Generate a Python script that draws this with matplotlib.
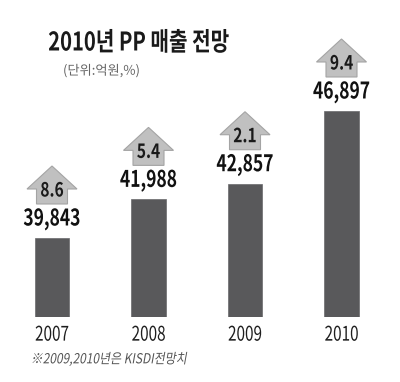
import matplotlib
matplotlib.use("Agg")
import matplotlib.pyplot as plt
from matplotlib.patches import Polygon
from matplotlib.patheffects import AbstractPathEffect
from matplotlib.transforms import Affine2D

# ---- data ----
years = ["2007", "2008", "2009", "2010"]
sales = [39843, 41988, 42857, 46897]
growth = ["8.6", "5.4", "2.1", "9.4"]
title = "2010년 PP 매출 전망"
unit = "(단위:억원,%)"
note = "※2009,2010년은 KISDI전망치"

KR = ["Noto Sans CJK KR", "DejaVu Sans"]
plt.rcParams["font.family"] = KR


class Condense(AbstractPathEffect):
    """Draw text horizontally condensed (and optionally slanted)."""
    def __init__(self, sx=0.75, anchor="center", skew=0.0):
        super().__init__()
        self.sx, self.anchor, self.skew = sx, anchor, skew

    def draw_path(self, renderer, gc, tpath, affine, rgbFace=None):
        ext = tpath.get_extents(affine)
        x0 = (ext.x0 + ext.x1) / 2 if self.anchor == "center" else ext.x0
        y0 = ext.y0
        t = affine + (Affine2D().translate(-x0, -y0)
                      .skew_deg(self.skew, 0)
                      .scale(self.sx, 1).translate(x0, y0))
        renderer.draw_path(gc, tpath, t, rgbFace)


W, H = 400, 382
fig = plt.figure(figsize=(W / 100, H / 100), dpi=100)
fig.patch.set_facecolor("white")

ax_bottom_px = 317
ax = fig.add_axes([3.75 / W, (H - ax_bottom_px) / H, 386 / W, ax_bottom_px / H])
ymin = 35455
upp = 55.54  # data units per pixel
ax.set_xlim(-0.5, 3.5)
ax.set_ylim(ymin, ymin + ax_bottom_px * upp)
for s in ax.spines.values():
    s.set_visible(False)
ax.set_yticks([])

x = list(range(len(years)))
ax.bar(x, sales, width=0.357, color="#59595b", edgecolor="#6a6a6c", linewidth=0.5)

ax.set_xticks(x)
ax.set_xticklabels(years, fontsize=14.5, color="#1e1e1e", fontweight="medium")
ax.tick_params(axis="x", length=0, pad=5.5)
for lab in ax.get_xticklabels():
    lab.set_path_effects([Condense(0.76)])

# arrows (pixel offsets above bar top)
stem_b, head_b, tip = 34, 49, 72
head_hw, stem_hw = 25 / 96.5, 15.5 / 96.5
for xi, v, g in zip(x, sales, growth):
    pts = [
        (xi - stem_hw, v + stem_b * upp),
        (xi + stem_hw, v + stem_b * upp),
        (xi + stem_hw, v + head_b * upp),
        (xi + head_hw, v + head_b * upp),
        (xi, v + tip * upp),
        (xi - head_hw, v + head_b * upp),
        (xi - stem_hw, v + head_b * upp),
    ]
    ax.add_patch(Polygon(pts, closed=True, facecolor="#c0c0c0",
                         edgecolor="#a4a4a4", linewidth=0.8, clip_on=False))
    t1 = ax.annotate(g, (xi, v), xytext=(0, 47), textcoords="offset pixels",
                     ha="center", va="center", fontsize=14, fontweight="bold",
                     color="#1a1a1a", annotation_clip=False)
    t1.set_path_effects([Condense(0.8)])
    t2 = ax.annotate(f"{v:,}", (xi, v), xytext=(0, 19), textcoords="offset pixels",
                     ha="center", va="center", fontsize=16.5, fontweight="bold",
                     color="#111111", annotation_clip=False)
    t2.set_path_effects([Condense(0.76)])

tt = fig.text(48 / W, 1 - 43 / H, title, ha="left", va="center",
              fontsize=18.5, fontweight="bold", color="#1a1a1a")
tt.set_path_effects([Condense(0.785, anchor="left")])
st = fig.text(63 / W, 1 - 71 / H, unit, ha="left", va="center",
              fontsize=9.5, color="#666666")
st.set_path_effects([Condense(1.0, anchor="left")])
nt = fig.text(30 / W, 1 - 359 / H, note, ha="left", va="center",
              fontsize=10, color="#555555")
nt.set_path_effects([Condense(0.86, anchor="left", skew=12)])

fig.savefig("out.png", dpi=100, facecolor="white")
